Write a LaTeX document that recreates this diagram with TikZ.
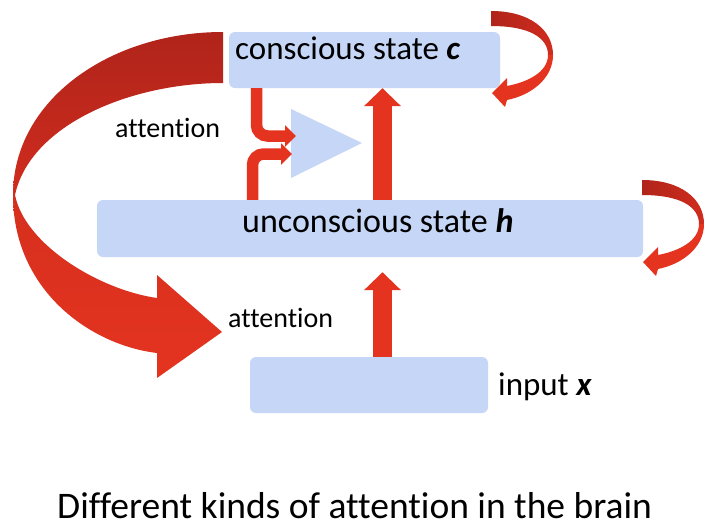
\documentclass[tikz,border=0pt]{standalone}
\usepackage{fontspec}
\setmainfont[Ligatures={NoCommon}]{Carlito}
\usetikzlibrary{arrows.meta,calc}
\definecolor{boxblue}{RGB}{198,214,246}
\definecolor{redA}{RGB}{228,52,32}
\definecolor{redD}{RGB}{176,36,26}
\definecolor{redM}{RGB}{208,44,30}
\begin{document}
\begin{tikzpicture}[x=1pt,y=-1pt,
  box/.style={fill=boxblue, rounded corners=6pt, inner sep=0pt, draw=none},
  lbl/.style={inner sep=0pt, anchor=base west, text=black},
  big/.style={font=\fontsize{33}{40}\selectfont},
  att/.style={font=\fontsize{28}{34}\selectfont},
  fatup/.style={draw=redA, line width=19pt, -{Triangle[length=18pt,width=36pt]}},
  thinbend/.style={draw=redA, line width=11.5pt, rounded corners=11pt, -{Triangle[length=11pt,width=21pt]}},
  backband/.style={top color=redD, bottom color=redM},
]
\useasboundingbox (0,0) rectangle (710,528);
\fill[white] (0,0) rectangle (710,528);

% boxes
\node[box, minimum width=271pt, minimum height=56pt] (cs) at (364.5,60) {};
\node[box, minimum width=546pt, minimum height=57pt] (uc) at (370,228.5) {};
\node[box, minimum width=238pt, minimum height=56pt] (in) at (369,385) {};

% texts
\node[lbl, big] (cst) at (235,59) {conscious state \textbf{\textit{c}}};
\node[lbl, font=\fontsize{34}{40}\selectfont] (uct) at (242,232) {unconscious state \textbf{\textit{h}}};
\node[lbl, big] (inpt) at (498,395) {input \textbf{\textit{x}}};
\node[lbl, att] (att1) at (115,137) {attention};
\node[lbl, att] (att2) at (228,327) {attention};
\node[lbl, font=\fontsize{37.5}{44}\selectfont] (cap) at (57,518) {Different kinds of attention in the brain};

% gate triangle
\fill[boxblue] (291,109) -- (291,178) -- (362,143) -- cycle;
\coordinate (t1) at (296,136);
\coordinate (t2) at (292,154);
\coordinate (a1) at (256.5,0);
\coordinate (a2) at (252.5,0);
\coordinate (ax) at (382.5,0);

% attention arrows into the gate
\draw[thinbend] (cs.south -| a1) |- (t1);
\draw[thinbend] (uc.north -| a2) |- (t2);

% vertical arrows
\draw[fatup] (uc.north -| ax) -- (cs.south -| ax);
\draw[fatup] (in.north -| ax) -- ($(uc.south -| ax)+(0,15)$);

% big attention ribbon arrow
\shade[backband] (223,32) .. controls (110,32) and (13,100) .. (13,195)
  -- (15,195) .. controls (30,125) and (130,83) .. (223,83) -- cycle;
\shade[top color={rgb,255:red,214;green,47;blue,30}, bottom color=redA]
  (13,195) .. controls (13,290) and (90,345) .. (157,353)
  -- (157,378) -- (222,332) -- (157,275) -- (157,298)
  .. controls (100,290) and (25,245) .. (15,195) -- cycle;

% self loops
\foreach \sx/\sy in {0/0, 151/169} {
  \begin{scope}[shift={(\sx,\sy)}]
    \shade[left color=redD, right color=redM]
      (491,11) .. controls (530,11) and (553,30) .. (553,55)
      -- (548,55) .. controls (548,38) and (530,26) .. (491,26) -- cycle;
    \fill[redA]
      (553,55) .. controls (553,78) and (532,95) .. (507,100)
      -- (505,107) -- (492,93) -- (507,78) -- (507,86)
      .. controls (528,82) and (548,72) .. (548,55) -- cycle;
  \end{scope}
}
\end{tikzpicture}
\end{document}
